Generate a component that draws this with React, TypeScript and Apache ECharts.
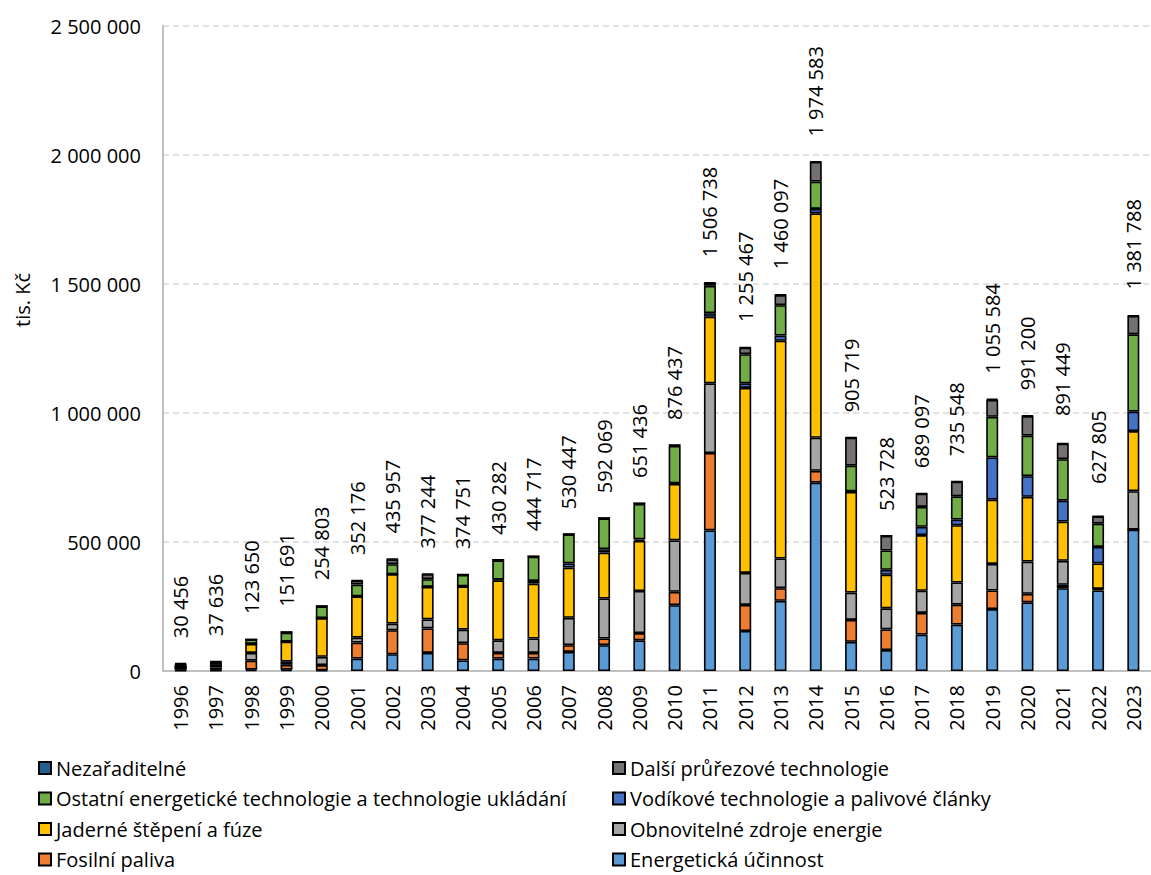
import React, { useEffect, useRef } from "react";
import * as echarts from "echarts";

const years = ["1996","1997","1998","1999","2000","2001","2002","2003","2004","2005","2006","2007","2008","2009","2010","2011","2012","2013","2014","2015","2016","2017","2018","2019","2020","2021","2022","2023"];

const energetickaUcinnost = [2000,2000,5000,5000,3000,48000,65000,70000,41000,48000,48000,74000,100000,119000,255000,545000,155000,272000,730000,113000,81000,141000,180000,240000,266000,321000,312000,548000];
const fosilniPaliva = [3000,3000,35000,19000,20000,62000,93000,95000,67000,22000,22000,26000,26000,28000,52000,300000,101000,49000,46000,85000,80000,84000,77000,72000,33000,13000,6000,0];
const obnovitelneZdroje = [8000,8000,30000,12000,32000,19000,26000,35000,52000,49000,56000,106000,155000,163000,199000,270000,124000,115000,128000,106000,82000,86000,86000,103000,125000,93000,0,149000];
const jaderneStepeni = [0,8000,35000,78000,150000,160000,191000,126000,168000,232000,213000,195000,178000,194000,219000,258000,717000,844000,870000,390000,130000,216000,222000,249000,251000,152000,99000,233000];
const vodikoveTechnologie = [0,0,0,0,0,0,0,0,0,3000,10000,16000,13000,6000,2000,14000,18000,20000,17000,2000,19000,32000,22000,164000,80000,81000,64000,75000];
const ostatniEnergeticke = [2000,3000,17000,35000,45000,46000,39000,30000,44000,75000,94000,112000,119000,138000,145000,106000,113000,118000,106000,100000,75000,77000,90000,157000,157000,161000,90000,300000];
const dalsiPrurezove = [12000,12000,0,2000,2000,15000,19000,19000,2000,2000,2000,2000,2000,2000,4000,11000,25000,39000,76000,108000,57000,51000,57000,66000,76000,60000,28000,71000];
const nezaraditelne = [3000,2000,0,0,0,2000,2000,2000,0,0,0,0,0,0,0,2000,2000,2000,2000,1000,0,1000,1000,4000,2000,2000,2000,2000];

const totals = [30456,37636,123650,151691,254803,352176,435957,377244,374751,430282,444717,530447,592069,651436,876437,1506738,1255467,1460097,1974583,905719,523728,689097,735548,1055584,991200,891449,627805,1381788];

const yTicks = [0, 500000, 1000000, 1500000, 2000000, 2500000];

const seriesDefs = [
  { name: "Energetická účinnost", data: energetickaUcinnost, color: "#5B9BD5" },
  { name: "Fosilní paliva", data: fosilniPaliva, color: "#ED7D31" },
  { name: "Obnovitelné zdroje energie", data: obnovitelneZdroje, color: "#A5A5A5" },
  { name: "Jaderné štěpení a fúze", data: jaderneStepeni, color: "#FFC000" },
  { name: "Vodíkové technologie a palivové články", data: vodikoveTechnologie, color: "#4472C4" },
  { name: "Ostatní energetické technologie a technologie ukládání", data: ostatniEnergeticke, color: "#70AD47" },
  { name: "Další průřezové technologie", data: dalsiPrurezove, color: "#767171" },
  { name: "Nezařaditelné", data: nezaraditelne, color: "#255E91" },
];

const legendCol1 = ["Nezařaditelné", "Ostatní energetické technologie a technologie ukládání", "Jaderné štěpení a fúze", "Fosilní paliva"];
const legendCol2 = ["Další průřezové technologie", "Vodíkové technologie a palivové články", "Obnovitelné zdroje energie", "Energetická účinnost"];

const fmt = (v: number) => String(Math.round(v)).replace(/\B(?=(\d{3})+(?!\d))/g, " ");

const FONT = "'Open Sans', sans-serif";

export default function App() {
  const ref = useRef<HTMLDivElement>(null);
  useEffect(() => {
    if (!ref.current) return;
    const chart = echarts.init(ref.current, null, { renderer: "svg" });
    const series: any[] = seriesDefs.map((s) => ({
      name: s.name,
      type: "bar",
      stack: "total",
      data: s.data,
      barWidth: 12,
      barGap: "-100%",
      itemStyle: { color: s.color, borderColor: "#000", borderWidth: 1.6 },
    }));
    series.push({
      name: "Celkem",
      type: "bar",
      data: totals,
      barWidth: 12,
      barGap: "-100%",
      silent: true,
      z: 1,
      itemStyle: { color: "rgba(0,0,0,0)", borderWidth: 0 },
      label: {
        show: true,
        position: "top",
        rotate: 90,
        align: "left",
        verticalAlign: "middle",
        distance: 25,
        formatter: (p: any) => fmt(p.value),
        fontFamily: FONT,
        fontSize: 20,
        color: "#000",
      },
    });
    const legendText = { fontFamily: FONT, fontSize: 20, color: "#000" };
    const legendBase = {
      orient: "vertical",
      top: 758,
      height: 140,
      padding: 0,
      itemWidth: 12,
      itemHeight: 12,
      itemGap: 10.5,
      icon: "rect",
      textStyle: legendText,
      selectedMode: false,
    };
    chart.setOption({
      animation: false,
      textStyle: { fontFamily: FONT },
      grid: { left: 163, right: -9, top: 26, bottom: 204, containLabel: false },
      legend: [
        { ...legendBase, left: 38, data: legendCol1 },
        { ...legendBase, left: 612, data: legendCol2 },
      ],
      xAxis: {
        type: "category",
        data: years,
        axisLine: { show: true, lineStyle: { color: "#BFBFBF", width: 2 } },
        axisTick: { show: false },
        axisLabel: { rotate: 90, margin: 14, fontFamily: FONT, fontSize: 20, color: "#000" },
      },
      yAxis: {
        type: "value",
        min: yTicks[0],
        max: yTicks[yTicks.length - 1],
        interval: 500000,
        axisLine: { show: true, lineStyle: { color: "#BFBFBF", width: 2 } },
        axisTick: { show: false },
        splitLine: { show: true, lineStyle: { color: "#D9D9D9", type: [6, 4], width: 1.5 } },
        axisLabel: { margin: 22, fontFamily: FONT, fontSize: 20, color: "#000", formatter: (v: number) => fmt(v) },
      },
      graphic: [
        {
          type: "text",
          x: 22,
          y: 300,
          rotation: Math.PI / 2,
          style: { text: "tis. Kč", fontFamily: FONT, fontSize: 20, fill: "#000", textAlign: "center", textVerticalAlign: "middle" },
        },
      ],
      series,
    });
    return () => chart.dispose();
  }, []);
  return <div ref={ref} style={{ position: "absolute", left: 0, top: 0, width: 1151, height: 875, background: "#fff" }} />;
}
